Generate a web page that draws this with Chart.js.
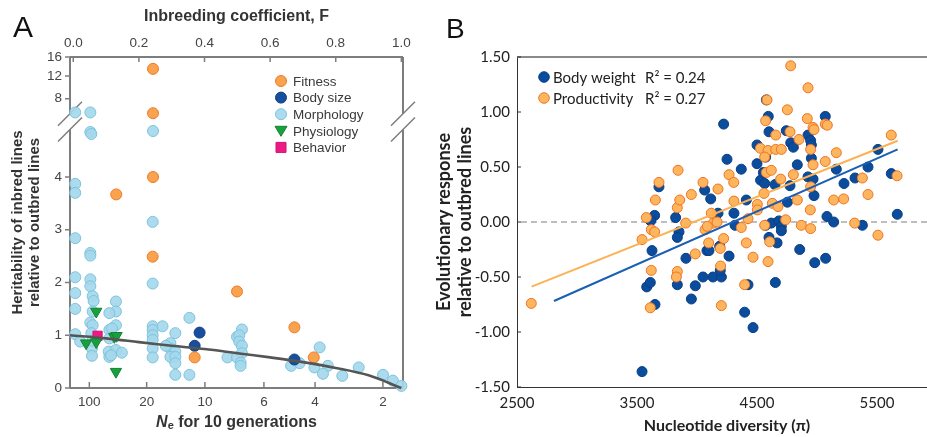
<!DOCTYPE html>
<html>
<head>
<meta charset="utf-8">
<script src="https://cdn.jsdelivr.net/npm/chart.js@4.4.0/dist/chart.umd.min.js"></script>
<style>
  body { margin: 0; width: 927px; height: 437px; overflow: hidden; position: relative; background: #fff; }
  .panel { position: absolute; top: 0; height: 437px; }
  .tag { position: absolute; font-family: 'Liberation Sans', Arial, sans-serif; line-height: 1; color: #111; }
  #neTitle { position: absolute; left: 70px; width: 333px; top: 413px; text-align: center;
    font: bold 16px 'Liberation Sans', Arial, sans-serif; color: #333; }
  #neTitle sub { font-size: 11px; vertical-align: -2px; }
</style>
</head>
<body>
<div class="panel" style="left:0;width:420px"><canvas id="chartA"></canvas></div>
<div class="panel" style="left:430px;width:520px"><canvas id="chartB"></canvas></div>
<div class="tag" style="left:13px;top:12px;font-size:30px">A</div>
<div class="tag" style="left:446px;top:15px;font-size:28px">B</div>
<div id="neTitle"><i>N</i><sub>e</sub> for 10 generations</div>
<script>
// ---- Panel A: heritability vs inbreeding coefficient ----
const fTicks = [0, 0.2, 0.4, 0.6, 0.8, 1.0];
const neTicks = [100, 20, 10, 6, 4, 2];
const hTicks = [0, 1, 2, 3, 4, 8, 12, 16];

const fitnessF = [0.243, 0.243, 0.243, 0.131, 0.242, 0.499, 0.674, 0.37, 0.733];
const fitnessH = [13.5, 7.26, 4.0, 3.67, 2.49, 1.83, 1.15, 0.58, 0.58];

const bodySizeF = [0.385, 0.37, 0.674];
const bodySizeH = [1.05, 0.80, 0.54];

const morphF = [0.006, 0.052, 0.052, 0.055, 0.243, 0.006, 0.006, 0.242, 0.006, 0.052, 0.052,
  0.006, 0.052, 0.052, 0.242, 0.006, 0.059, 0.062, 0.006, 0.059, 0.052, 0.059, 0.006, 0.021,
  0.055, 0.057, 0.057, 0.059, 0.130, 0.130, 0.110, 0.130, 0.110, 0.118, 0.110, 0.108, 0.110,
  0.130, 0.148, 0.115, 0.242, 0.242, 0.242, 0.242, 0.272, 0.242, 0.242, 0.311, 0.296, 0.296,
  0.311, 0.296, 0.311, 0.311, 0.311, 0.282, 0.354, 0.354, 0.514, 0.499, 0.506, 0.506, 0.514,
  0.514, 0.47, 0.499, 0.51, 0.51, 0.751, 0.664, 0.69, 0.735, 0.776, 0.761, 0.82, 0.87, 0.944,
  0.974, 1.0];
const morphH = [7.3, 7.3, 6.3, 6.2, 6.35, 3.87, 3.70, 3.15, 2.84, 2.56, 2.51,
  2.10, 2.06, 1.93, 1.98, 1.80, 1.74, 1.65, 1.50, 1.45, 1.24, 1.19, 1.02, 0.88,
  1.04, 0.75, 0.61, 0.90, 1.64, 1.45, 1.42, 1.19, 1.10, 1.13, 0.94, 0.69, 0.59,
  0.72, 0.67, 0.62, 1.17, 1.10, 1.00, 0.91, 1.17, 0.75, 0.58, 1.04, 0.85, 0.75,
  0.69, 0.59, 0.59, 0.47, 0.25, 0.80, 1.33, 0.25, 1.11, 0.97, 1.00, 0.88, 0.80,
  0.66, 0.58, 0.58, 0.48, 0.42, 0.77, 0.42, 0.47, 0.39, 0.42, 0.27, 0.23, 0.39, 0.25,
  0.14, 0.04];

const physioF = [0.07, 0.039, 0.07, 0.125, 0.132, 0.13];
const physioH = [1.45, 0.85, 0.87, 0.97, 0.99, 0.31];

const behaviorF = [0.074];
const behaviorH = [0.99];

// fitted curve
const curveF = [-0.01, 0.1, 0.2, 0.3, 0.4, 0.5, 0.6, 0.7, 0.8, 0.9, 1.0];
const curveH = [1.0, 0.94, 0.87, 0.80, 0.74, 0.66, 0.58, 0.49, 0.38, 0.24, 0.0];

// ---- Panel B: response vs nucleotide diversity ----
const bodyWX = [3683, 3647, 3614, 3822, 4064, 4114, 4222, 4250, 4175, 4308, 4369, 4411, 4500, 4500,
  4530, 4564, 4572, 4553, 4578, 4594, 4600, 4650, 4744, 4781, 4803, 4836, 4753, 4775, 4925, 4947,
  4953, 4953, 4925, 4967, 4975, 5069, 5161, 5225, 5317, 5425, 5508, 5619, 5669, 5083, 5139, 5378,
  3625, 3581, 3611, 3650, 3542, 3850, 3836, 3908, 3836, 3953, 3986, 4050, 4083, 4100, 4133, 4189,
  4203, 4194, 4267, 4317, 4397, 4425, 4467, 4572, 4600, 4619, 4667, 4653, 4683, 4703, 4703, 4856,
  4981, 5072];
const bodyWY = [0.32, 0.06, 0.01, 0.04, 0.29, 0.21, 0.89, 0.57, 0.08, 0.08, 0.48, 0.20, 0.70, 0.53,
  0.38, 0.35, 0.59, 0.45, 1.11, 0.96, 0.82, 0.34, 0.83, 0.72, 0.68, 0.52, 0.18, 0.33, 0.79, 0.74,
  0.70, 0.58, 0.41, 0.39, 0.24, 0.96, 0.48, 0.35, 0.40, 0.50, 0.66, 0.44, 0.07, 0.05, 0.00, -0.03,
  -0.26, -0.59, -0.55, -0.75, -1.36, -0.09, -0.14, -0.33, -0.57, -0.70, -0.58, -0.50, -0.26, -0.26, -0.50, -0.22,
  -0.50, -0.44, -0.31, -0.03, -0.82, -0.57, -0.96, -0.03, -0.14, -0.01, -0.19, -0.55, 0.01, -0.04, -0.08, -0.25,
  -0.37, -0.33];

const prodX = [3578, 3653, 3683, 3842, 3836, 3856, 3906, 3953, 4050, 4119, 4136, 4167, 4175, 4267,
  4306, 4308, 4425, 4503, 4503, 4528, 4572, 4583, 4592, 4564, 4558, 4578, 4619, 4656, 4656, 4703,
  4697, 4628, 4675, 4753, 4781, 4775, 4803, 4850, 4836, 4739, 4925, 4919, 4967, 4975, 4947, 4947,
  4967, 4944, 5069, 5086, 5069, 5161, 5139, 5222, 5378, 5425, 5619, 5667, 3542, 3619, 3647, 3619,
  3611, 2619, 3836, 3828, 3986, 4067, 4086, 4097, 4194, 4197, 4203, 4222, 4369, 4411, 4397, 4467,
  4564, 4592, 4606, 4869, 4947, 5314, 5508];
const prodY = [0.04, 0.20, 0.36, 0.47, 0.13, 0.20, -0.01, 0.25, 0.36, 0.08, -0.01, 0.00, 0.30, 0.43,
  0.36, 0.19, 0.03, 0.16, 0.11, 0.67, 0.92, 1.11, 0.65, 0.59, 0.26, 0.45, 0.47, 0.79, 0.66, 0.66,
  0.39, 0.17, 0.14, 1.02, 1.42, 0.82, 0.43, 0.75, 0.20, 0.02, 1.22, 0.94, 0.86, 0.84, 0.66, 0.32,
  0.52, 0.11, 0.89, 0.88, 0.55, 0.63, 0.20, 0.21, 0.40, 0.25, 0.79, 0.42, -0.16, -0.07, -0.09, -0.44,
  -0.78, -0.74, -0.45, -0.50, -0.29, -0.07, -0.04, -0.19, -0.24, -0.40, -0.76, -0.15, -0.05, -0.19, -0.57, -0.32,
  -0.03, -0.36, -0.18, -0.03, -0.06, -0.01, -0.12];

// regression lines (end points)
const bodyFitX = [2808, 5672], bodyFitY = [-0.718, 0.66];
const prodFitX = [2622, 5672], prodFitY = [-0.588, 0.739];
const piTicks = [2500, 3500, 4500, 5500];

// ---------------------------------------------------------------
Chart.defaults.animation = false;
Chart.defaults.plugins.tooltip.enabled = false;
Chart.defaults.plugins.legend.display = false;

function neToF(n) { return 1 - Math.pow(1 - 1 / (2 * n), 10); }

// broken axis: above 4 the scale is squeezed
function toDisp(v) {
  if (v <= 4) return v;
  if (v <= 8) return 4 + (v - 4) * 0.371;
  if (v <= 12) return 5.484 + (v - 8) * 0.1078;
  return 5.915 + (v - 12) * 0.09;
}
function pts(xs, ys, f) { return xs.map((x, i) => ({ x: x, y: f ? f(ys[i]) : ys[i] })); }

const fontA = "'Liberation Sans', Arial, sans-serif";
const colA = {
  fitness: ['#f9a24f', '#ef7a24'],
  body: ['#174e9e', '#123f82'],
  morph: ['rgba(165,216,236,0.92)', '#7cc3dd'],
  physio: ['#17a03c', '#128232'],
  behav: ['#ec1a84', '#d4106f']
};
const breakLo = 4.9, breakHi = 5.2;

const frameA = {
  id: 'frameA',
  beforeDatasetsDraw(chart) {
    const { ctx, chartArea: a, scales } = chart;
    const yHi = scales.y.getPixelForValue(breakHi), yLo = scales.y.getPixelForValue(breakLo);
    ctx.save();
    ctx.strokeStyle = '#7d7d7d';
    ctx.lineWidth = 2;
    ctx.beginPath();
    ctx.moveTo(a.left, a.top); ctx.lineTo(a.right, a.top);
    ctx.moveTo(a.left, a.bottom); ctx.lineTo(a.right, a.bottom);
    [a.left, a.right].forEach(x => {
      ctx.moveTo(x, a.top); ctx.lineTo(x, yHi);
      ctx.moveTo(x, yLo); ctx.lineTo(x, a.bottom);
    });
    ctx.stroke();
    ctx.lineWidth = 1.5;
    ctx.beginPath();
    [a.left, a.right].forEach(x => {
      [yHi, yLo].forEach(y => { ctx.moveTo(x - 12, y + 12); ctx.lineTo(x + 12, y - 12); });
    });
    ctx.stroke();
    // tick marks
    ctx.beginPath();
    fTicks.forEach(f => { const x = scales.x.getPixelForValue(f); ctx.moveTo(x, a.top); ctx.lineTo(x, a.top + 5); });
    neTicks.forEach(n => { const x = scales.ne.getPixelForValue(neToF(n)); ctx.moveTo(x, a.bottom); ctx.lineTo(x, a.bottom - 6); });
    hTicks.forEach(h => { const y = scales.y.getPixelForValue(toDisp(h)); ctx.moveTo(a.left - 5, y); ctx.lineTo(a.left, y); });
    ctx.stroke();
    ctx.restore();
  },
  afterDraw(chart) {
    const { ctx, chartArea: a } = chart;
    const items = [
      ['Fitness', 'circle', colA.fitness], ['Body size', 'circle', colA.body],
      ['Morphology', 'circle', colA.morph], ['Physiology', 'tri', colA.physio],
      ['Behavior', 'rect', colA.behav]
    ];
    ctx.save();
    ctx.font = '13.5px ' + fontA;
    ctx.textBaseline = 'middle';
    items.forEach((it, i) => {
      const x = a.left + 211, y = a.top + 24 + i * 16.6;
      ctx.fillStyle = it[2][0]; ctx.strokeStyle = it[2][1]; ctx.lineWidth = 1;
      ctx.beginPath();
      if (it[1] === 'circle') ctx.arc(x, y, 5.5, 0, Math.PI * 2);
      else if (it[1] === 'tri') { ctx.moveTo(x - 6, y - 4.5); ctx.lineTo(x + 6, y - 4.5); ctx.lineTo(x, y + 5.5); ctx.closePath(); }
      else ctx.rect(x - 5, y - 5, 10, 10);
      ctx.fill(); ctx.stroke();
      ctx.fillStyle = '#3a3a3a';
      ctx.fillText(it[0], x + 12, y + 1);
    });
    ctx.restore();
  }
};

function scat(label, xs, ys, c, style, order, extra) {
  return Object.assign({
    type: 'scatter', label: label, data: pts(xs, ys, toDisp),
    backgroundColor: c[0], borderColor: c[1], borderWidth: 1,
    pointStyle: style, pointRadius: 5.5, order: order, clip: false
  }, extra || {});
}

new Chart(document.getElementById('chartA'), {
  data: {
    datasets: [
      { type: 'line', label: 'fit', data: pts(curveF, curveH), borderColor: '#555', borderWidth: 2.6,
        pointRadius: 0, tension: 0.35, order: 0, clip: false },
      scat('Fitness', fitnessF, fitnessH, colA.fitness, 'circle', 1),
      scat('Body size', bodySizeF, bodySizeH, colA.body, 'circle', 1),
      scat('Physiology', physioF, physioH, colA.physio, 'triangle', 1, { rotation: 180, pointRadius: 6.5 }),
      scat('Behavior', behaviorF, behaviorH, colA.behav, 'rect', 1, { pointRadius: 6.5 }),
      scat('Morphology', morphF, morphH, colA.morph, 'circle', 2)
    ]
  },
  options: {
    responsive: true, maintainAspectRatio: false,
    layout: { padding: { left: 0, right: 17, top: 0, bottom: 0 } },
    scales: {
      x: {
        type: 'linear', position: 'top', min: -0.01, max: 1.005,
        afterBuildTicks: s => { s.ticks = fTicks.map(v => ({ value: v })); },
        afterFit: s => { s.height = 57; },
        grid: { display: false, drawTicks: false }, border: { display: false },
        ticks: { callback: v => v.toFixed(1), font: { family: fontA, size: 13.5 }, color: '#444', padding: 6, maxRotation: 0, autoSkip: false },
        title: { display: true, text: 'Inbreeding coefficient, F', font: { family: fontA, size: 16, weight: 'bold' }, color: '#333', padding: { top: 7, bottom: 0 } }
      },
      ne: {
        type: 'linear', position: 'bottom', min: -0.01, max: 1.005,
        afterBuildTicks: s => { s.ticks = neTicks.map(n => ({ value: neToF(n) })); },
        afterFit: s => { s.height = 49; },
        grid: { display: false, drawTicks: false }, border: { display: false },
        ticks: { callback: (v, i) => neTicks[i], font: { family: fontA, size: 13.5 }, color: '#444', padding: 6, maxRotation: 0, autoSkip: false }
      },
      y: {
        type: 'linear', min: 0, max: toDisp(16),
        afterBuildTicks: s => { s.ticks = hTicks.map(h => ({ value: toDisp(h) })); },
        afterFit: s => { s.width = 70; },
        grid: { display: false, drawTicks: false }, border: { display: false },
        ticks: { callback: (v, i) => hTicks[i], font: { family: fontA, size: 13.5 }, color: '#444', padding: 8, autoSkip: false },
        title: { display: true, text: ['Heritability of inbred lines', 'relative to outbred lines'],
          font: { family: fontA, size: 15, weight: 'bold', lineHeight: 1.13 }, color: '#333', padding: { top: 9, bottom: 0 } }
      }
    }
  },
  plugins: [frameA]
});

// ---------------- Panel B ----------------
const fontB = "Lato, 'Open Sans', sans-serif";
const colB = { body: ['#0b4c9c', '#083f85'], prod: ['#fdb55e', '#ef7322'] };

const frameB = {
  id: 'frameB',
  beforeDatasetsDraw(chart) {
    const { ctx, chartArea: a, scales } = chart;
    const y0 = scales.y.getPixelForValue(0);
    ctx.save();
    ctx.strokeStyle = '#a9a9a9'; ctx.lineWidth = 1.5; ctx.setLineDash([6, 4]);
    ctx.beginPath(); ctx.moveTo(a.left + 4, y0); ctx.lineTo(a.right, y0); ctx.stroke();
    ctx.setLineDash([]);
    ctx.strokeStyle = '#8a8a8a'; ctx.lineWidth = 2;
    ctx.beginPath(); ctx.moveTo(a.left, a.top); ctx.lineTo(a.right, a.top); ctx.stroke();
    ctx.strokeStyle = '#333'; ctx.lineWidth = 1;
    ctx.beginPath();
    scales.y.ticks.forEach(t => { const y = scales.y.getPixelForValue(t.value); ctx.moveTo(a.left, y); ctx.lineTo(a.left + 4, y); });
    ctx.stroke();
    ctx.restore();
  },
  afterDraw(chart) {
    const { ctx, chartArea: a } = chart;
    const items = [['Body weight', 'R\u00b2 = 0.24', colB.body], ['Productivity', 'R\u00b2 = 0.27', colB.prod]];
    ctx.save();
    ctx.font = '15px ' + fontB;
    ctx.textBaseline = 'middle';
    items.forEach((it, i) => {
      const x = a.left + 27, y = a.top + 20 + i * 21;
      ctx.fillStyle = it[2][0]; ctx.strokeStyle = it[2][1]; ctx.lineWidth = 1;
      ctx.beginPath(); ctx.arc(x, y, 5.3, 0, Math.PI * 2); ctx.fill(); ctx.stroke();
      ctx.fillStyle = '#222';
      ctx.fillText(it[0], x + 9, y + 1);
      ctx.fillText(it[1], a.left + 128, y + 1);
    });
    ctx.restore();
  }
};

new Chart(document.getElementById('chartB'), {
  data: {
    datasets: [
      { type: 'line', label: 'prodFit', data: pts(prodFitX, prodFitY), borderColor: '#fbb252', borderWidth: 2, pointRadius: 0, order: 0 },
      { type: 'line', label: 'bodyFit', data: pts(bodyFitX, bodyFitY), borderColor: '#1a5fb4', borderWidth: 2, pointRadius: 0, order: 0 },
      { type: 'scatter', label: 'Productivity', data: pts(prodX, prodY), backgroundColor: colB.prod[0], borderColor: colB.prod[1],
        borderWidth: 1, pointRadius: 5, order: 1 },
      { type: 'scatter', label: 'Body weight', data: pts(bodyWX, bodyWY), backgroundColor: colB.body[0], borderColor: colB.body[1],
        borderWidth: 1, pointRadius: 5, order: 2 }
    ]
  },
  options: {
    responsive: true, maintainAspectRatio: false,
    layout: { padding: { left: 0, right: 13, top: 57, bottom: 0 } },
    scales: {
      x: {
        type: 'linear', min: 2500, max: 6000,
        afterBuildTicks: s => { s.ticks = piTicks.map(v => ({ value: v })); },
        afterFit: s => { s.height = 50; },
        grid: { display: false, drawTicks: false }, border: { display: true, color: '#333', width: 1 },
        ticks: { font: { family: fontB, size: 15 }, color: '#222', padding: 7, maxRotation: 0, autoSkip: false, callback: v => String(v) },
        title: { display: true, text: 'Nucleotide diversity (\u03c0)', font: { family: fontB, size: 16, weight: 'bold' }, color: '#222', padding: { top: 0, bottom: 2 } }
      },
      y: {
        type: 'linear', min: -1.5, max: 1.5,
        ticks: { stepSize: 0.5, font: { family: fontB, size: 15 }, color: '#222', padding: 7, callback: v => v.toFixed(2) },
        afterFit: s => { s.width = 87; },
        grid: { display: false, drawTicks: false }, border: { display: true, color: '#333', width: 1 },
        title: { display: true, text: ['Evolutionary response', 'relative to outbred lines'],
          font: { family: fontB, size: 18, weight: 'bold', lineHeight: 1.17 }, color: '#222', padding: { top: 4, bottom: 0 } }
      }
    }
  },
  plugins: [frameB]
});
</script>
</body>
</html>
